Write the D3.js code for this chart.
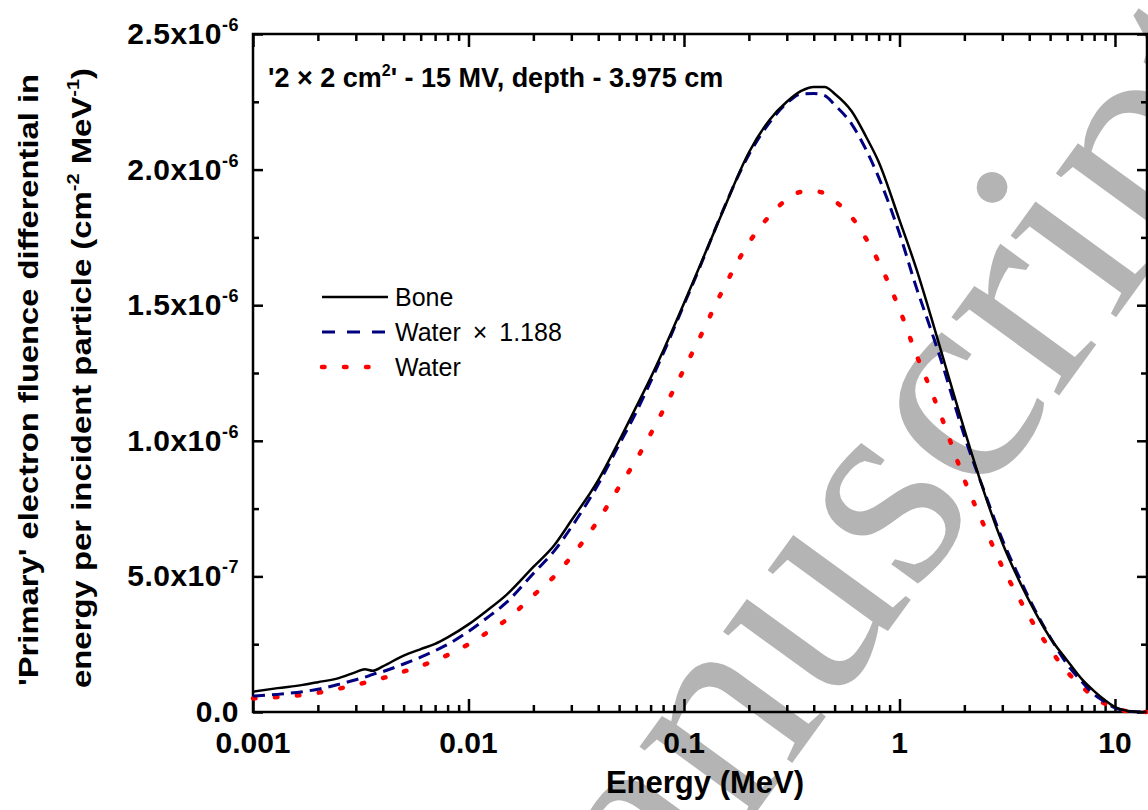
<!DOCTYPE html>
<html><head><meta charset="utf-8">
<script src="https://cdn.jsdelivr.net/npm/d3@7"></script>
<style>
body{margin:0;background:#fff;}
svg{display:block;}
text{font-family:Arial,"Liberation Sans",sans-serif;}
</style>
</head><body>
<svg id="chart" width="1148" height="810"></svg>
<script>
// Energy grid (MeV)
const energies = [0.001,0.0013,0.0017,0.002,0.0025,0.003,0.0033,0.0036,0.004,0.005,0.006,0.007,0.008,0.01,0.012,0.015,0.02,0.025,0.03,0.04,0.05,0.06,0.07,0.08,0.1,0.12,0.15,0.2,0.25,0.3,0.35,0.4,0.45,0.5,0.6,0.7,0.8,1.0,1.2,1.4,1.6,1.8,2.0,2.5,3.0,3.5,4.0,5.0,6.0,7.0,8.0,9.0,10,11,12,14];
// Fluence values in units of 1e-6 cm^-2 MeV^-1
const bone = [0.075,0.088,0.100,0.110,0.125,0.147,0.158,0.152,0.168,0.208,0.232,0.251,0.275,0.323,0.370,0.432,0.535,0.615,0.706,0.855,1.000,1.125,1.232,1.331,1.507,1.656,1.838,2.063,2.184,2.250,2.290,2.305,2.305,2.280,2.215,2.121,2.029,1.814,1.632,1.458,1.301,1.163,1.041,0.798,0.624,0.503,0.410,0.274,0.190,0.122,0.077,0.043,0.018,0.007,0.002,0];
const waterScaled = [0.059,0.065,0.075,0.084,0.102,0.119,0.128,0.139,0.149,0.177,0.202,0.226,0.249,0.297,0.343,0.404,0.511,0.594,0.681,0.840,0.986,1.105,1.218,1.321,1.502,1.651,1.841,2.055,2.174,2.245,2.279,2.281,2.273,2.239,2.168,2.073,1.972,1.764,1.563,1.409,1.269,1.135,1.018,0.804,0.636,0.517,0.418,0.276,0.176,0.113,0.065,0.036,0.015,0.006,0.002,0];
const water = [0.050,0.055,0.063,0.071,0.086,0.100,0.108,0.117,0.125,0.149,0.170,0.190,0.210,0.250,0.289,0.340,0.430,0.500,0.573,0.707,0.830,0.930,1.025,1.112,1.264,1.390,1.550,1.730,1.830,1.890,1.918,1.920,1.913,1.885,1.825,1.745,1.660,1.485,1.316,1.186,1.068,0.955,0.857,0.677,0.535,0.435,0.352,0.232,0.148,0.095,0.055,0.030,0.013,0.005,0.002,0];

const seriesNames = ["Bone","Water \u00d7 1.188","Water"];
const xTickValues = [0.001,0.01,0.1,1,10];
const xTickLabels = ["0.001","0.01","0.1","1","10"];
const yTickValues = [0,0.5,1.0,1.5,2.0,2.5];
const yTickMantissa = ["0.0","5.0x10","1.0x10","1.5x10","2.0x10","2.5x10"];
const yTickExponent = ["","-7","-6","-6","-6","-6"];
const yMinorValues = [0.25,0.75,1.25,1.75,2.25];

const svg = d3.select("#chart");
const L = 253, R = 1147, T = 34, B = 712;
const x = d3.scaleLog().domain([0.001, 14.08]).range([L, R]);
const y = d3.scaleLinear().domain([0, 2.5]).range([B, T]);

// watermark (behind everything)
const F = 290;
svg.append("text")
  .attr("transform","translate(964,413) rotate(-54)")
  .attr("x", -6.97*F).attr("y", 0.23*F)
  .style("font-family","'Liberation Serif','Times New Roman',serif")
  .style("font-size", F+"px")
  .attr("fill","#b4b4b4")
  .text("Accepted Manuscript");

// minor x tick values (2..9 per decade)
const xMinor = [];
[0.001,0.01,0.1,1,10].forEach(d => { for (let k=2;k<=9;k++){ const v=d*k; if (v < x.domain()[1]) xMinor.push(v);} });

function styleAxis(g){
  g.select(".domain").remove();
  g.selectAll(".tick line").attr("stroke","#000").attr("stroke-width",2.5);
  g.selectAll(".tick text").remove();
}
svg.append("g").attr("transform",`translate(0,${B})`).call(d3.axisBottom(x).tickValues(xTickValues).tickSize(-13)).call(styleAxis);
svg.append("g").attr("transform",`translate(0,${B})`).call(d3.axisBottom(x).tickValues(xMinor).tickSize(-7)).call(styleAxis);
svg.append("g").attr("transform",`translate(0,${T})`).call(d3.axisTop(x).tickValues(xTickValues).tickSize(-13)).call(styleAxis);
svg.append("g").attr("transform",`translate(0,${T})`).call(d3.axisTop(x).tickValues(xMinor).tickSize(-7)).call(styleAxis);
svg.append("g").attr("transform",`translate(${L},0)`).call(d3.axisLeft(y).tickValues(yTickValues).tickSize(-10)).call(styleAxis);
svg.append("g").attr("transform",`translate(${L},0)`).call(d3.axisLeft(y).tickValues(yMinorValues).tickSize(-6)).call(styleAxis);
svg.append("g").attr("transform",`translate(${R},0)`).call(d3.axisRight(y).tickValues(yTickValues).tickSize(-10)).call(styleAxis);
svg.append("g").attr("transform",`translate(${R},0)`).call(d3.axisRight(y).tickValues(yMinorValues).tickSize(-6)).call(styleAxis);

// frame
svg.append("rect").attr("x",L).attr("y",T).attr("width",R-L).attr("height",B-T)
  .attr("fill","none").attr("stroke","#000").attr("stroke-width",2.5);

// x tick labels
svg.append("g").selectAll("text").data(xTickValues).join("text")
  .attr("x", d => x(d)).attr("y", B+41)
  .attr("text-anchor","middle")
  .style("font-size","30px").style("font-weight","bold")
  .text((d,i) => xTickLabels[i]);

// y tick labels
const yl = svg.append("g").selectAll("text").data(yTickValues).join("text")
  .attr("x", 239).attr("y", d => y(d)+10)
  .attr("text-anchor","end")
  .style("font-size","30px").style("font-weight","bold")
  .style("letter-spacing","0.5px");
yl.append("tspan").text((d,i)=>yTickMantissa[i]);
yl.append("tspan").attr("dy",-13).style("font-size","18px").text((d,i)=>yTickExponent[i]);

// axis titles
svg.append("text").attr("x", 705).attr("y", 793)
  .attr("text-anchor","middle")
  .style("font-size","31px").style("font-weight","bold")
  .text("Energy (MeV)");

svg.append("text").attr("transform","translate(38,380) rotate(-90)")
  .attr("text-anchor","middle")
  .style("font-size","28px").style("font-weight","bold")
  .attr("textLength",612).attr("lengthAdjust","spacingAndGlyphs")
  .text("'Primary' electron fluence differential in");
const yt2 = svg.append("text").attr("transform","translate(91,378) rotate(-90)")
  .attr("text-anchor","middle")
  .style("font-size","28px").style("font-weight","bold")
  .attr("textLength",620).attr("lengthAdjust","spacingAndGlyphs");
yt2.append("tspan").text("energy per incident particle (cm");
yt2.append("tspan").attr("dy",-12).style("font-size","17px").text("-2");
yt2.append("tspan").attr("dy",12).text(" MeV");
yt2.append("tspan").attr("dy",-12).style("font-size","17px").text("-1");
yt2.append("tspan").attr("dy",12).text(")");

// title inside plot
const tt = svg.append("text").attr("x",268).attr("y",87)
  .style("font-size","27px").style("font-weight","bold");
tt.append("tspan").text("'2 \u00d7 2 cm");
tt.append("tspan").attr("dy",-11).style("font-size","16px").text("2");
tt.append("tspan").attr("dy",11).text("' - 15 MV, depth - 3.975 cm");

// curves
const series = [
  {name: seriesNames[0], values: bone, color:"#000000", width:2.5, dash:null, legendDash:null, cap:"butt"},
  {name: seriesNames[1], values: waterScaled, color:"#000080", width:3, dash:"12,7", legendDash:"13,12", cap:"butt"},
  {name: seriesNames[2], values: water, color:"#ff0000", width:4.5, dash:"2.5,19.5", legendDash:"2.5,19.5", cap:"round"}
];
const line = d3.line().curve(d3.curveMonotoneX);
svg.append("g").selectAll("path").data(series.slice().reverse()).join("path")
  .attr("d", s => line(energies.map((e,i)=>[x(e), y(s.values[i])])))
  .attr("fill","none")
  .attr("stroke", s=>s.color)
  .attr("stroke-width", s=>s.width)
  .attr("stroke-dasharray", s=>s.dash)
  .attr("stroke-linecap", s=>s.cap);

// legend
const rows = svg.append("g").selectAll("g").data(series).join("g")
  .attr("transform",(d,i)=>`translate(0,${297 + i*35})`);
rows.append("line").attr("x1",322).attr("x2",388).attr("y1",0).attr("y2",0)
  .attr("stroke",d=>d.color).attr("stroke-width",d=>d.width)
  .attr("stroke-dasharray",d=>d.legendDash).attr("stroke-linecap",d=>d.cap);
rows.append("text").attr("x",395).attr("y",9)
  .style("font-size","25px").style("word-spacing","5px")
  .text(d=>d.name);
</script>
</body></html>
